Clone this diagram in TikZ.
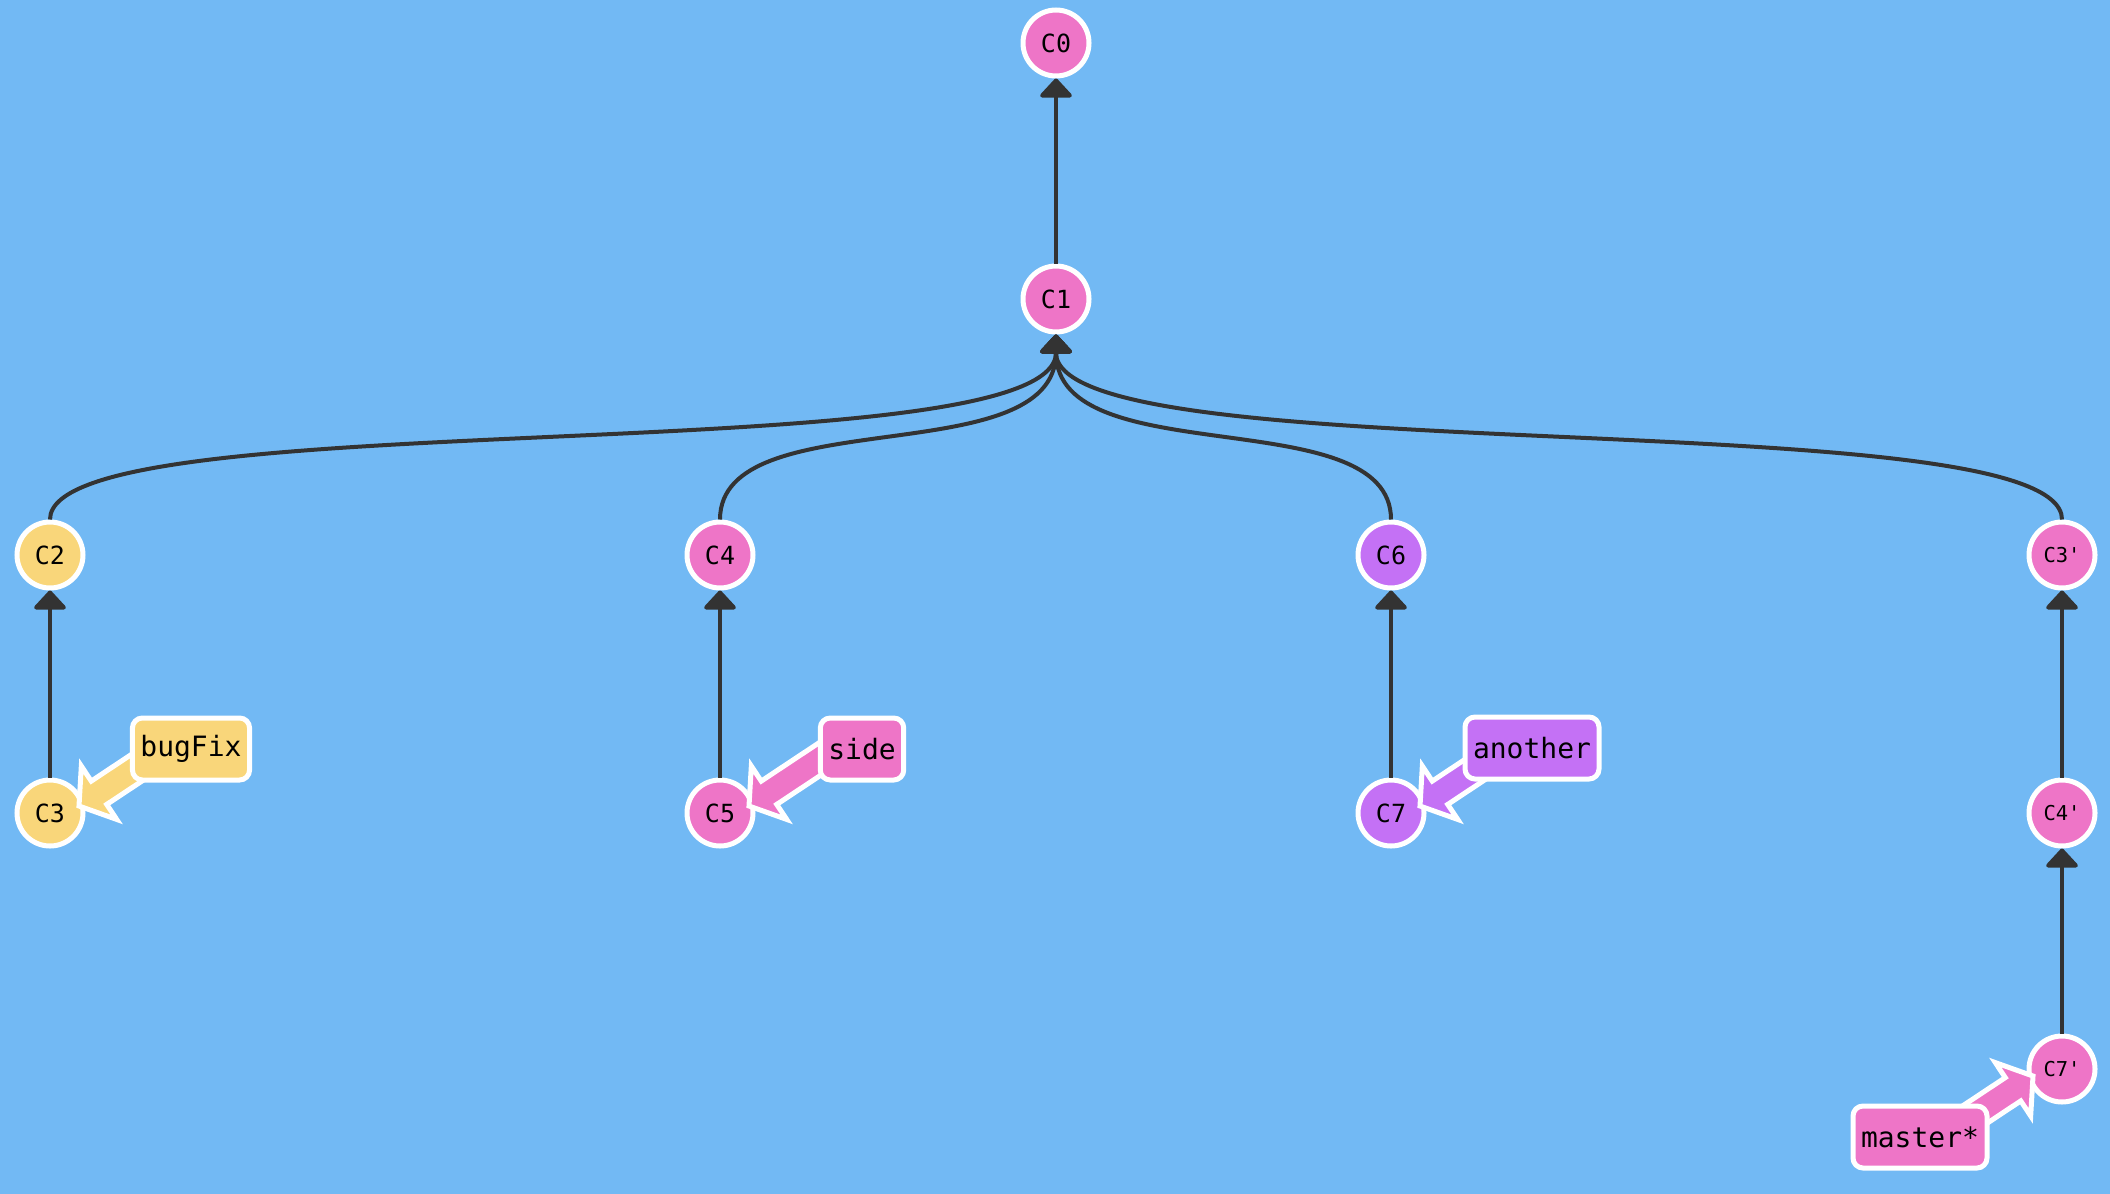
\documentclass[tikz,border=0pt]{standalone}
\usepackage{fontspec}
\newfontfamily\gitmono{DejaVu Sans Mono}
\usetikzlibrary{arrows.meta,calc}
\definecolor{bgblue}{RGB}{114,185,244}
\definecolor{cpink}{RGB}{238,117,199}
\definecolor{cpurple}{RGB}{196,113,245}
\definecolor{cyellow}{RGB}{249,214,122}
\definecolor{edgegray}{RGB}{51,51,51}
\tikzset{
  commit/.style={circle, fill=#1, draw=white, line width=5pt, minimum size=66pt, inner sep=0pt,
    font=\gitmono\fontsize{25}{28}\selectfont},
  commitsm/.style={commit=#1, font=\gitmono\fontsize{20.5}{24}\selectfont},
  branchlbl/.style={rectangle, rounded corners=10pt, fill=#1, draw=white, line width=5pt,
    minimum height=62pt, inner xsep=8pt, inner ysep=0pt,
    font=\gitmono\fontsize{28}{31}\selectfont},
  edge/.style={draw=edgegray, line width=4pt, -{Triangle[width=36pt,length=20pt,round]}},
}
\newcommand\branchptr[3]{%
  \filldraw[fill=#3, draw=white, line width=5pt, line join=miter]
    let \p1=(#1), \p2=(#2), \n1={atan2(\y2-\y1,\x2-\x1)} in
    (\p2)
    -- ($(\p2)+(\n1+180:24pt)+(\n1+90:32pt)$)
    -- ($(\p2)+(\n1+180:24pt)+(\n1+90:14pt)$)
    -- ($(\p1)+(\n1+90:14pt)$)
    -- ($(\p1)+(\n1-90:14pt)$)
    -- ($(\p2)+(\n1+180:24pt)+(\n1-90:14pt)$)
    -- ($(\p2)+(\n1+180:24pt)+(\n1-90:32pt)$)
    -- cycle;
}
\begin{document}
\begin{tikzpicture}[x=1pt,y=-1pt]
\useasboundingbox (0,0) rectangle (2110,1194);
\fill[bgblue] (0,0) rectangle (2110,1194);

% commits
\node[commit=cpink] (C0) at (1056,43) {C0};
\node[commit=cpink] (C1) at (1056,299) {C1};
\node[commit=cyellow] (C2) at (50,555) {C2};
\node[commit=cyellow] (C3) at (50,813) {C3};
\node[commit=cpink] (C4) at (720,555) {C4};
\node[commit=cpink] (C5) at (720,813) {C5};
\node[commit=cpurple] (C6) at (1391,555) {C6};
\node[commit=cpurple] (C7) at (1391,813) {C7};
\node[commitsm=cpink] (C3p) at (2062,555) {C3'};
\node[commitsm=cpink] (C4p) at (2062,813) {C4'};
\node[commitsm=cpink] (C7p) at (2062,1069) {C7'};

% edges
\draw[edge] (C1) -- (C0);
\draw[edge] (C2.north) .. controls +(0,-120) and +(0,140) .. (C1.south);
\draw[edge] (C4.north) .. controls +(0,-120) and +(0,140) .. (C1.south);
\draw[edge] (C6.north) .. controls +(0,-120) and +(0,140) .. (C1.south);
\draw[edge] (C3p.north) .. controls +(0,-120) and +(0,140) .. (C1.south);
\draw[edge] (C3) -- (C2);
\draw[edge] (C5) -- (C4);
\draw[edge] (C7) -- (C6);
\draw[edge] (C4p) -- (C3p);
\draw[edge] (C7p) -- (C4p);

% branch pointer ends
\coordinate (bugFixtail) at (171,745);
\coordinate (sidetail) at (841,745);
\coordinate (anothertail) at (1512,745);
\coordinate (mastertail) at (1941,1137);
\coordinate (bugFixtip) at ($(C3)+(29,-7)$);
\coordinate (sidetip) at ($(C5)+(29,-7)$);
\coordinate (anothertip) at ($(C7)+(29,-7)$);
\coordinate (mastertip) at ($(C7p)+(-29,7)$);

\branchptr{bugFixtail}{bugFixtip}{cyellow}
\branchptr{sidetail}{sidetip}{cpink}
\branchptr{anothertail}{anothertip}{cpurple}
\branchptr{mastertail}{mastertip}{cpink}

% branch labels
\node[branchlbl=cyellow] (bugFix) at (191,749) {bugFix};
\node[branchlbl=cpink] (side) at (862,749) {side};
\node[branchlbl=cpurple] (another) at (1532,748) {another};
\node[branchlbl=cpink] (master) at (1920,1137) {master*};
\end{tikzpicture}
\end{document}
